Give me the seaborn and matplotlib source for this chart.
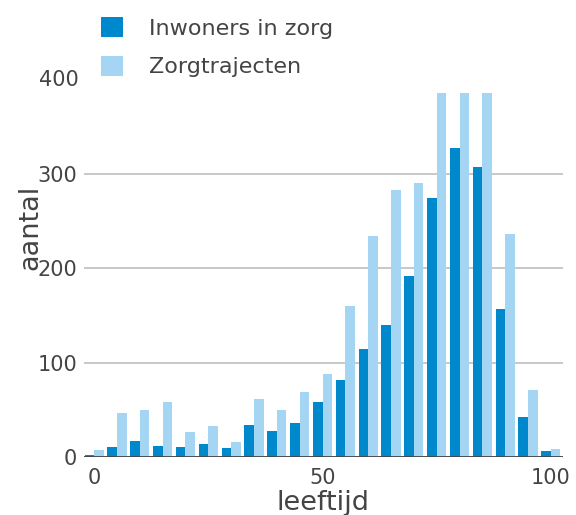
import pandas as pd
import seaborn as sns
import matplotlib.pyplot as plt
import matplotlib.transforms as mtransforms

# Leeftijdsklassen (per 5 jaar) en aantallen
leeftijd = [0, 5, 10, 15, 20, 25, 30, 35, 40, 45, 50,
            55, 60, 65, 70, 75, 80, 85, 90, 95, 100]
inwoners_in_zorg = [2, 11, 17, 12, 11, 14, 10, 34, 28, 36, 58,
                    82, 115, 140, 192, 275, 328, 308, 157, 42, 6]
# drie staven lopen boven de as uit (afgekapt in de grafiek)
zorgtrajecten = [7, 47, 50, 58, 26, 33, 16, 62, 50, 69, 88,
                 160, 234, 283, 291, 400, 420, 405, 237, 71, 9]

df = pd.DataFrame({
    "leeftijd": leeftijd * 2,
    "aantal": inwoners_in_zorg + zorgtrajecten,
    "reeks": ["Inwoners in zorg"] * len(leeftijd) + ["Zorgtrajecten"] * len(leeftijd),
})

sns.set_theme(style="white")
plt.rcParams["font.family"] = ["DejaVu Sans"]
tekst = "#444444"

fig = plt.figure(figsize=(5.76, 5.15), dpi=100)
ax = fig.add_axes([0.146, 0.1126, 0.831, 0.7066])

sns.barplot(data=df, x="leeftijd", y="aantal", hue="reeks", native_scale=True,
            palette=["#0088CC", "#A4D5F2"], width=0.84, saturation=1,
            linewidth=0, ax=ax)

ax.set_xlim(-2.2, 102.6)
ax.set_ylim(0, 386)
ax.set_xticks([0, 50, 100])
ax.set_yticks([0, 100, 200, 300])
ax.tick_params(axis="both", length=0, labelsize=15, labelcolor=tekst)
ax.tick_params(axis="x", pad=8)
ax.tick_params(axis="y", pad=5)
ax.yaxis.grid(True, color="#c4c4c4", linewidth=1.3)
ax.set_axisbelow(True)
for s in ax.spines.values():
    s.set_visible(False)
ax.axhline(0, color=tekst, linewidth=2, zorder=5)

# label 400 valt buiten het bereik, maar staat wel in de grafiek
trans = mtransforms.blended_transform_factory(ax.transAxes, ax.transData)
ax.text(-0.012, 400, "400", transform=trans, ha="right", va="center",
        fontsize=15, color=tekst, clip_on=False)

ax.set_xlabel("leeftijd", fontsize=19.5, color=tekst, labelpad=1)
ax.set_ylabel("")
fig.text(0.052, 1 - 227 / 515, "aantal", rotation=90, ha="center", va="center",
         fontsize=19.5, color=tekst)

handles, labels = ax.get_legend_handles_labels()
ax.legend_.remove()
fig.legend(handles, labels, loc="upper left", bbox_to_anchor=(0.141, 1.005),
           frameon=False, fontsize=16, labelcolor=tekst, handlelength=1.0,
           handleheight=1.0, handletextpad=1.15, labelspacing=0.75)

fig.savefig("out.png", dpi=100)
